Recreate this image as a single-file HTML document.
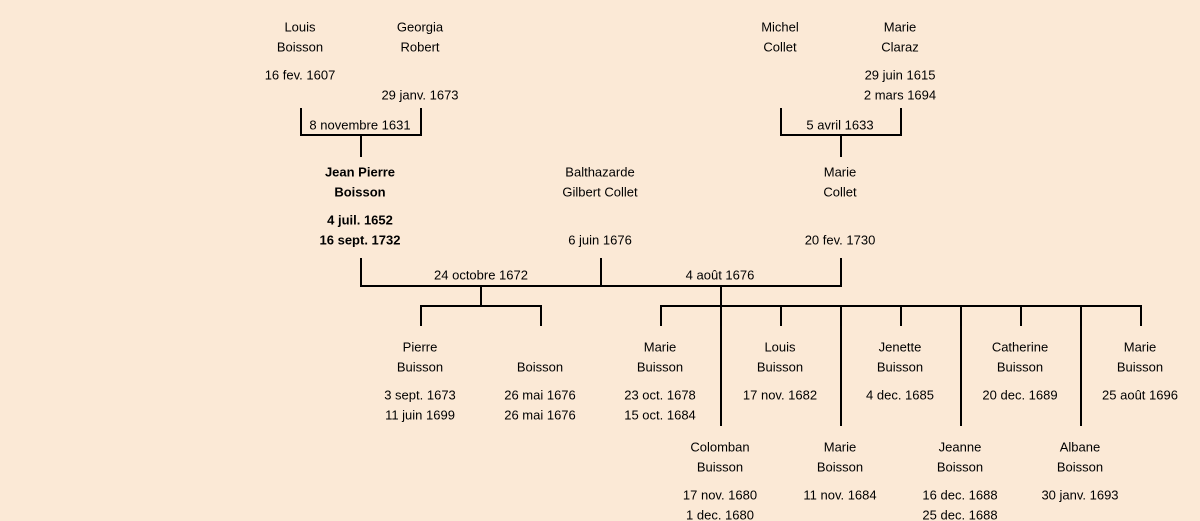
<!DOCTYPE html>
<html><head><meta charset="utf-8"><style>
html,body{margin:0;padding:0;background:#fbe9d6;}
svg{display:block;}
text{font-family:"Liberation Sans",sans-serif;font-size:13px;fill:#000;text-anchor:middle;dominant-baseline:middle;}
.b{font-weight:bold;}
</style></head><body>
<svg width="1200" height="521" viewBox="0 0 1200 521">
<rect width="1200" height="521" fill="#fbe9d6"/>
<g stroke="#000" stroke-width="2" fill="none">
<path d="M301 108V135H421V108M361 135V157"/>
<path d="M781 108V135H901V108M841 135V157"/>
<path d="M361 258V286H841V258M601 258V286"/>
<path d="M481 286V306M421 326V306H541V326"/>
<path d="M721 286V426M661 326V306H1141V326M781 306V326M901 306V326M1021 306V326M841 306V426M961 306V426M1081 306V426"/>
</g>
<g transform="translate(0,1)">
<text x="300" y="27">Louis</text><text x="300" y="47">Boisson</text><text x="300" y="75">16 fev. 1607</text>
<text x="420" y="27">Georgia</text><text x="420" y="47">Robert</text><text x="420" y="95">29 janv. 1673</text>
<text x="360" y="125">8 novembre 1631</text>
<text x="780" y="27">Michel</text><text x="780" y="47">Collet</text>
<text x="900" y="27">Marie</text><text x="900" y="47">Claraz</text><text x="900" y="75">29 juin 1615</text><text x="900" y="95">2 mars 1694</text>
<text x="840" y="125">5 avril 1633</text>
<text class="b" x="360" y="172">Jean Pierre</text><text class="b" x="360" y="192">Boisson</text><text class="b" x="360" y="220">4 juil. 1652</text><text class="b" x="360" y="240">16 sept. 1732</text>
<text x="600" y="172">Balthazarde</text><text x="600" y="192">Gilbert Collet</text><text x="600" y="240">6 juin 1676</text>
<text x="840" y="172">Marie</text><text x="840" y="192">Collet</text><text x="840" y="240">20 fev. 1730</text>
<text x="481" y="275">24 octobre 1672</text>
<text x="720" y="275">4 août 1676</text>
<text x="420" y="347">Pierre</text><text x="420" y="367">Buisson</text><text x="420" y="395">3 sept. 1673</text><text x="420" y="415">11 juin 1699</text>
<text x="540" y="367">Boisson</text><text x="540" y="395">26 mai 1676</text><text x="540" y="415">26 mai 1676</text>
<text x="660" y="347">Marie</text><text x="660" y="367">Buisson</text><text x="660" y="395">23 oct. 1678</text><text x="660" y="415">15 oct. 1684</text>
<text x="780" y="347">Louis</text><text x="780" y="367">Buisson</text><text x="780" y="395">17 nov. 1682</text>
<text x="900" y="347">Jenette</text><text x="900" y="367">Buisson</text><text x="900" y="395">4 dec. 1685</text>
<text x="1020" y="347">Catherine</text><text x="1020" y="367">Buisson</text><text x="1020" y="395">20 dec. 1689</text>
<text x="1140" y="347">Marie</text><text x="1140" y="367">Buisson</text><text x="1140" y="395">25 août 1696</text>
<text x="720" y="447">Colomban</text><text x="720" y="467">Buisson</text><text x="720" y="495">17 nov. 1680</text><text x="720" y="515">1 dec. 1680</text>
<text x="840" y="447">Marie</text><text x="840" y="467">Boisson</text><text x="840" y="495">11 nov. 1684</text>
<text x="960" y="447">Jeanne</text><text x="960" y="467">Boisson</text><text x="960" y="495">16 dec. 1688</text><text x="960" y="515">25 dec. 1688</text>
<text x="1080" y="447">Albane</text><text x="1080" y="467">Boisson</text><text x="1080" y="495">30 janv. 1693</text>
</g>
</svg>
</body></html>
